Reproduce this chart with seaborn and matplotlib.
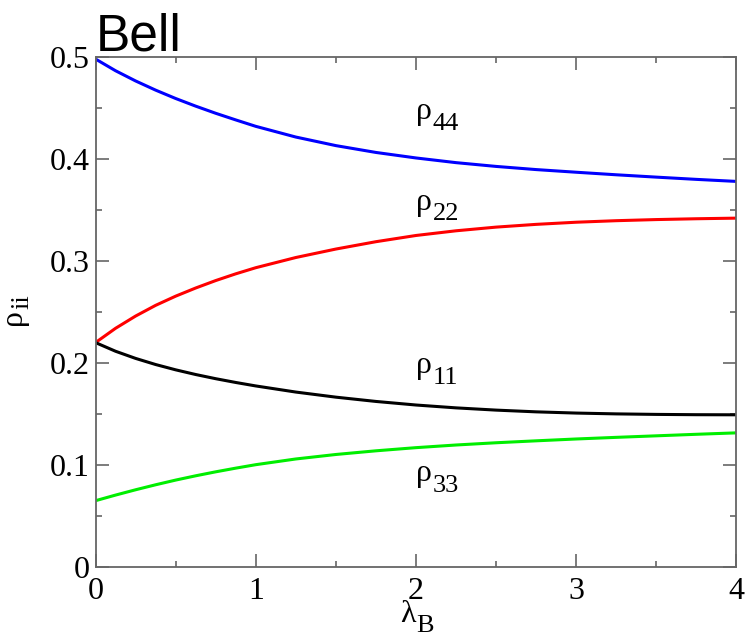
import numpy as np
import pandas as pd
import matplotlib
matplotlib.use("Agg")
import matplotlib.pyplot as plt
from matplotlib.ticker import MultipleLocator, FuncFormatter
import seaborn as sns

# Diagonal density-matrix elements versus lambda_B
lam = [0.0, 0.125, 0.25, 0.375, 0.5, 0.625, 0.75, 0.875, 1.0,
       1.25, 1.5, 1.75, 2.0, 2.25, 2.5, 2.75, 3.0, 3.25, 3.5, 3.75, 4.0]
rho44 = [0.498, 0.4865, 0.4765, 0.4675, 0.4593, 0.4518, 0.4448, 0.4383,
         0.432, 0.4215, 0.4131, 0.4064, 0.401, 0.3964, 0.3927, 0.3896,
         0.387, 0.3845, 0.3822, 0.380, 0.378]
rho22 = [0.220, 0.234, 0.246, 0.2565, 0.2655, 0.2735, 0.2808, 0.2874,
         0.2934, 0.3034, 0.3117, 0.3189, 0.325, 0.3296, 0.3332, 0.3359,
         0.338, 0.3395, 0.3406, 0.3414, 0.342]
rho11 = [0.220, 0.2115, 0.2045, 0.1985, 0.1933, 0.1887, 0.1846, 0.1809,
         0.1775, 0.1715, 0.1665, 0.1623, 0.1588, 0.156, 0.1538, 0.1521,
         0.1509, 0.1501, 0.1496, 0.1493, 0.1492]
rho33 = [0.065, 0.0705, 0.0757, 0.0806, 0.0852, 0.0894, 0.0933, 0.0969,
         0.1003, 0.1059, 0.1103, 0.1139, 0.117, 0.1196, 0.1218, 0.1237,
         0.1255, 0.1271, 0.1286, 0.1301, 0.1315]

series_names = ["44", "22", "11", "33"]
series_values = [rho44, rho22, rho11, rho33]
series_colors = ["#0000ff", "#ff0000", "#000000", "#00ee00"]
# curve labels: left edge of the rho glyph and its baseline, in data units
label_pos = {"44": (2.0, 0.439), "22": (2.0, 0.350),
             "11": (2.0, 0.190), "33": (2.0, 0.084)}

df = pd.concat(
    [pd.DataFrame({"lam": lam, "rho": v, "elem": n})
     for n, v in zip(series_names, series_values)],
    ignore_index=True,
)

sns.set_theme(style="ticks")
plt.rcParams["font.family"] = ["Liberation Serif", "DejaVu Serif"]
plt.rcParams["text.color"] = "black"
plt.rcParams["lines.solid_joinstyle"] = "round"

fig = plt.figure(figsize=(7.48, 6.43), dpi=100)
ax = fig.add_axes([0.1277, 0.1182, 0.8569, 0.7932])

sns.lineplot(data=df, x="lam", y="rho", hue="elem",
             palette=dict(zip(series_names, series_colors)),
             hue_order=series_names, linewidth=2.2, legend=False, ax=ax,
             sort=False)

ax.set_xlim(0, 4)
ax.set_ylim(0, 0.5)
ax.xaxis.set_major_locator(MultipleLocator(1))
ax.xaxis.set_minor_locator(MultipleLocator(0.5))
ax.yaxis.set_major_locator(MultipleLocator(0.1))
ax.yaxis.set_minor_locator(MultipleLocator(0.05))
ax.xaxis.set_major_formatter(FuncFormatter(lambda v, p: f"{v:g}"))
ax.yaxis.set_major_formatter(FuncFormatter(lambda v, p: f"{round(v, 2):g}"))
ax.set_xlabel("")
ax.set_ylabel("")

gray = "#666666"
for s in ax.spines.values():
    s.set_visible(True)
    s.set_color(gray)
    s.set_linewidth(1.3)

ax.tick_params(which="both", direction="in", top=True, right=True,
               color=gray, width=1.2, labelsize=23, labelcolor="black")
ax.tick_params(which="major", length=9.5)
ax.tick_params(which="minor", length=4.5)
ax.tick_params(axis="x", which="major", pad=7)
ax.tick_params(axis="y", which="major", pad=4)

fig.canvas.draw()
to_fig = fig.transFigure.inverted()
PX = fig.dpi / 72.0


def sub_text(x, y, base, sub, transform, fs=23, sfs=19, drop=7.5,
             rotation=0):
    """Base glyph followed by a large, low subscript."""
    t = fig.text(*to_fig.transform(transform.transform((x, y))), base,
                 fontsize=fs, rotation=rotation, rotation_mode="anchor",
                 ha="left", va="baseline")
    fig.canvas.draw()
    bb = t.get_window_extent()
    ax0, ay0 = transform.transform((x, y))
    if rotation == 0:
        sx, sy = bb.x1 + 0.5, ay0 - drop * PX
    else:
        sx, sy = ax0 + drop * PX, bb.y1 + 0.5
    fig.text(*to_fig.transform((sx, sy)), sub, fontsize=sfs,
             rotation=rotation, rotation_mode="anchor",
             ha="left", va="baseline")


for n, (x, y) in label_pos.items():
    sub_text(x, y, "\u03c1", n, ax.transData)

sub_text(0.475, -0.108, "\u03bb", "B", ax.transAxes, drop=7)
sub_text(-0.116, 0.4745, "\u03c1", "ii", ax.transAxes, drop=5,
         rotation=90)

fig.text(0.128, 0.922, "Bell", fontsize=37, family="Liberation Sans",
         ha="left", va="baseline", color="black")

fig.savefig("out.png", dpi=100, facecolor="white")
